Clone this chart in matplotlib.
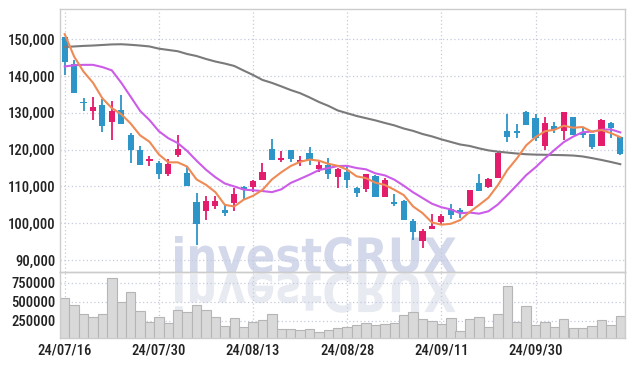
"""Candlestick chart with MA lines, volume panel and investCRUX watermark."""
import matplotlib
matplotlib.use("Agg")
import matplotlib.pyplot as plt
import numpy as np
import pandas as pd
from matplotlib.font_manager import FontProperties
from matplotlib.patches import PathPatch
from matplotlib.textpath import TextPath
from matplotlib.transforms import Affine2D, IdentityTransform

# Korean trading days (market holidays skipped)
holidays = ["2024-08-15", "2024-09-16", "2024-09-17", "2024-09-18",
            "2024-10-01", "2024-10-03", "2024-10-09"]
dates = pd.bdate_range("2024-07-16", periods=60, freq="C", holidays=holidays)
date_labels = [d.strftime("%y/%m/%d") for d in dates]
tick_idx = [0, 10, 20, 30, 40, 50]

opens = [150500, 143300, 132800, 130450, 132150, 127450, 130900, 123850, 119800, 116850,
         116300, 113400, 118450, 113600, 105750, 103250, 104700, 103600, 105500, 109750,
         109950, 111700, 120100, 117150, 119800, 116550, 119200, 114700, 115800, 112600,
         114050, 109700, 109250, 112950, 107050, 105650, 106100, 100650, 95250, 98550,
         100250, 103850, 103500, 104750, 110900, 109900, 112250, 125000, 125000, 130350,
         128550, 121050, 126450, 125100, 128750, 124400, 124200, 121050, 127200, 123400]
closes = [143700, 135300, 132700, 131700, 126300, 130550, 126950, 119900, 115850, 117450,
          113400, 116050, 120100, 110100, 99900, 106050, 106050, 102900, 107900, 109100,
          111350, 114050, 117150, 117650, 117450, 117100, 117150, 115700, 113350, 114800,
          111700, 108200, 113250, 107050, 111850, 105200, 101000, 97700, 97900, 99250,
          102050, 102200, 102850, 109000, 108750, 112000, 119050, 123500, 124550, 126750,
          123100, 127200, 125400, 130100, 124050, 124050, 120600, 128000, 125750, 118700]
highs = [150600, 144300, 134150, 134300, 133800, 133250, 134850, 124600, 121100, 118350,
         117000, 117450, 124050, 115650, 108200, 107300, 107300, 105050, 109450, 110200,
         111850, 116450, 123000, 119650, 119900, 118250, 120800, 117100, 117650, 114900,
         115550, 109800, 113500, 113000, 112350, 107950, 106200, 101200, 98450, 102450,
         102400, 105100, 104100, 109100, 113250, 112250, 119600, 129650, 126900, 130550,
         129650, 129000, 127400, 130350, 128800, 125850, 124300, 128300, 127400, 123400]
lows = [140200, 135300, 130550, 128100, 124850, 122700, 126900, 116400, 115800, 115650,
        112000, 112800, 118100, 110000, 94050, 100900, 103800, 102050, 103400, 106300,
        108500, 111700, 117100, 116700, 116700, 115450, 115700, 113800, 112050, 109600,
        109600, 107150, 108400, 107000, 107000, 104750, 100900, 95450, 93150, 98500,
        99500, 101150, 101300, 104700, 108700, 109650, 112200, 122200, 123050, 126700,
        122400, 119850, 124650, 122650, 124000, 123300, 120150, 121000, 123300, 118600]
volumes = [547000, 459000, 342000, 306000, 342000, 809000, 495000, 626000, 381000, 241000,
           298000, 220000, 394000, 364000, 459000, 394000, 298000, 185000, 285000, 168000,
           237000, 263000, 342000, 145000, 145000, 128000, 141000, 102000, 128000, 154000,
           168000, 198000, 224000, 198000, 211000, 224000, 329000, 364000, 272000, 250000,
           211000, 285000, 119000, 272000, 306000, 168000, 342000, 708000, 233000, 446000,
           193000, 233000, 168000, 272000, 163000, 163000, 180000, 259000, 193000, 311000]
ma5 = [151400, 145300, 141200, 138200, 133950, 131300, 129650, 127100, 123900, 122150,
       118700, 116550, 116550, 115400, 111900, 110450, 108450, 105000, 104550, 106400,
       107450, 109050, 111900, 113850, 115550, 116700, 117300, 117000, 116150, 115600,
       114550, 112750, 112250, 111000, 110400, 109100, 107650, 104550, 102750, 100200,
       99600, 99850, 100850, 103050, 104950, 106950, 110350, 114450, 117550, 121150,
       123400, 125000, 125400, 126500, 125950, 126150, 124850, 125350, 124500, 123400]
ma10 = [142600, 142950, 143050, 143050, 142450, 141550, 138200, 134400, 130550, 128050,
        125000, 123100, 121800, 119650, 117000, 114550, 112500, 110800, 110000, 109150,
        108950, 108750, 108450, 109200, 110950, 112050, 113200, 114450, 115000, 115550,
        115600, 115000, 114650, 113550, 113000, 111850, 110200, 108400, 106850, 105300,
        104350, 103750, 102700, 102900, 102600, 103250, 105100, 107650, 110300, 113050,
        115200, 117650, 119900, 122050, 123550, 124750, 124900, 125400, 125500, 124700]
ma_long = [147900, 148050, 148200, 148300, 148450, 148600, 148650, 148500, 148300, 148050,
           147450, 147100, 146750, 146000, 145450, 144650, 143950, 143400, 142750, 141500,
           140300, 138950, 138150, 137200, 136200, 135350, 134200, 132950, 131900, 130650,
           129900, 129150, 128550, 127950, 127250, 126600, 125750, 125100, 124250, 123600,
           122800, 122100, 121400, 121000, 120350, 119800, 119450, 119200, 118950, 118750,
           118650, 118600, 118550, 118500, 118400, 118150, 117700, 117200, 116650, 116050]

UP = "#e31c6c"
DOWN = "#2e95c8"
GRID = "#c5cadf"
FONT = ["Roboto Condensed", "Roboto", "DejaVu Sans"]


def add_watermark(fig):
    prop = FontProperties(family="DejaVu Sans", weight="bold")
    path = TextPath((0, 0), "investCRUX", size=100, prop=prop)
    ext = path.get_extents()
    H = 366
    x0, x1 = 175, 456          # pixel span of the word
    base, top = 273, 236       # baseline and top (image rows)
    sx = (x1 - x0) / ext.width
    sy = (base - top) / ext.height
    tr = Affine2D().translate(-ext.x0, -ext.y0).scale(sx, sy).translate(x0, H - base)
    fig.add_artist(PathPatch(tr.transform_path(path), facecolor="#d3d8ea",
                             edgecolor="none", transform=IdentityTransform(), zorder=0))
    # mirrored reflection below the word
    tr2 = Affine2D().translate(-ext.x0, -ext.y0).scale(sx, -sy * 1.1).translate(x0, H - base)
    fig.add_artist(PathPatch(tr2.transform_path(path), facecolor="#e8eaf1",
                             edgecolor="none", transform=IdentityTransform(), zorder=0))


def main():
    fig = plt.figure(figsize=(6.34, 3.66), dpi=100)
    fig.patch.set_facecolor("white")
    W, H = 634, 366
    left, right = 60 / W, 625 / W
    ax = fig.add_axes([left, 1 - 272.3 / H, right - left, (272.3 - 9) / H])
    axv = fig.add_axes([left, 1 - 337.5 / H, right - left, (337.5 - 272.3) / H], sharex=ax)
    add_watermark(fig)

    x = np.arange(len(opens))
    o, c = np.array(opens), np.array(closes)
    up = c >= o
    colors = np.where(up, UP, DOWN)
    bottom = np.minimum(o, c)
    height = np.maximum(np.abs(c - o), 250)

    for a in (ax, axv):
        a.set_facecolor("none")
        a.grid(True, color=GRID, linestyle=(0, (1, 2)), linewidth=0.9)
        a.set_axisbelow(True)
        for s in a.spines.values():
            s.set_color("#cccccc")
            s.set_linewidth(1.0)
        a.tick_params(length=0, labelsize=10.5, colors="#222222")

    ax.vlines(x, lows, highs, colors=colors, linewidth=1.3, zorder=2)
    ax.bar(x, height, bottom=bottom, width=0.65, color=colors, zorder=2)

    ax.plot(x, ma_long, color="#7a7a7a", linewidth=1.5, zorder=3)
    ax.plot(x, ma10, color="#cc5ce8", linewidth=1.5, zorder=3)
    ax.plot(x, ma5, color="#ef8a55", linewidth=1.5, zorder=3)

    ax.set_xlim(-0.5, len(opens) - 0.5)
    ax.set_ylim(86660, 158230)
    yt = [90000, 100000, 110000, 120000, 130000, 140000, 150000]
    ax.set_yticks(yt)
    ax.set_yticklabels([f"{v:,}" for v in yt], family=FONT, weight="medium")
    plt.setp(ax.get_xticklabels(), visible=False)

    axv.bar(x, volumes, width=1.0, color="#d9d9d9", edgecolor="#b5b5b5", linewidth=0.8, zorder=2)
    axv.set_ylim(34000, 886000)
    vt = [250000, 500000, 750000]
    axv.set_yticks(vt)
    axv.set_yticklabels([str(v) for v in vt], family=FONT, weight="medium")
    axv.set_xticks(tick_idx)
    axv.set_xticklabels([date_labels[i] for i in tick_idx], family=FONT, weight="medium")
    axv.tick_params(axis="x", pad=4)

    fig.savefig("out.png", dpi=100, facecolor="white")


if __name__ == "__main__":
    main()
